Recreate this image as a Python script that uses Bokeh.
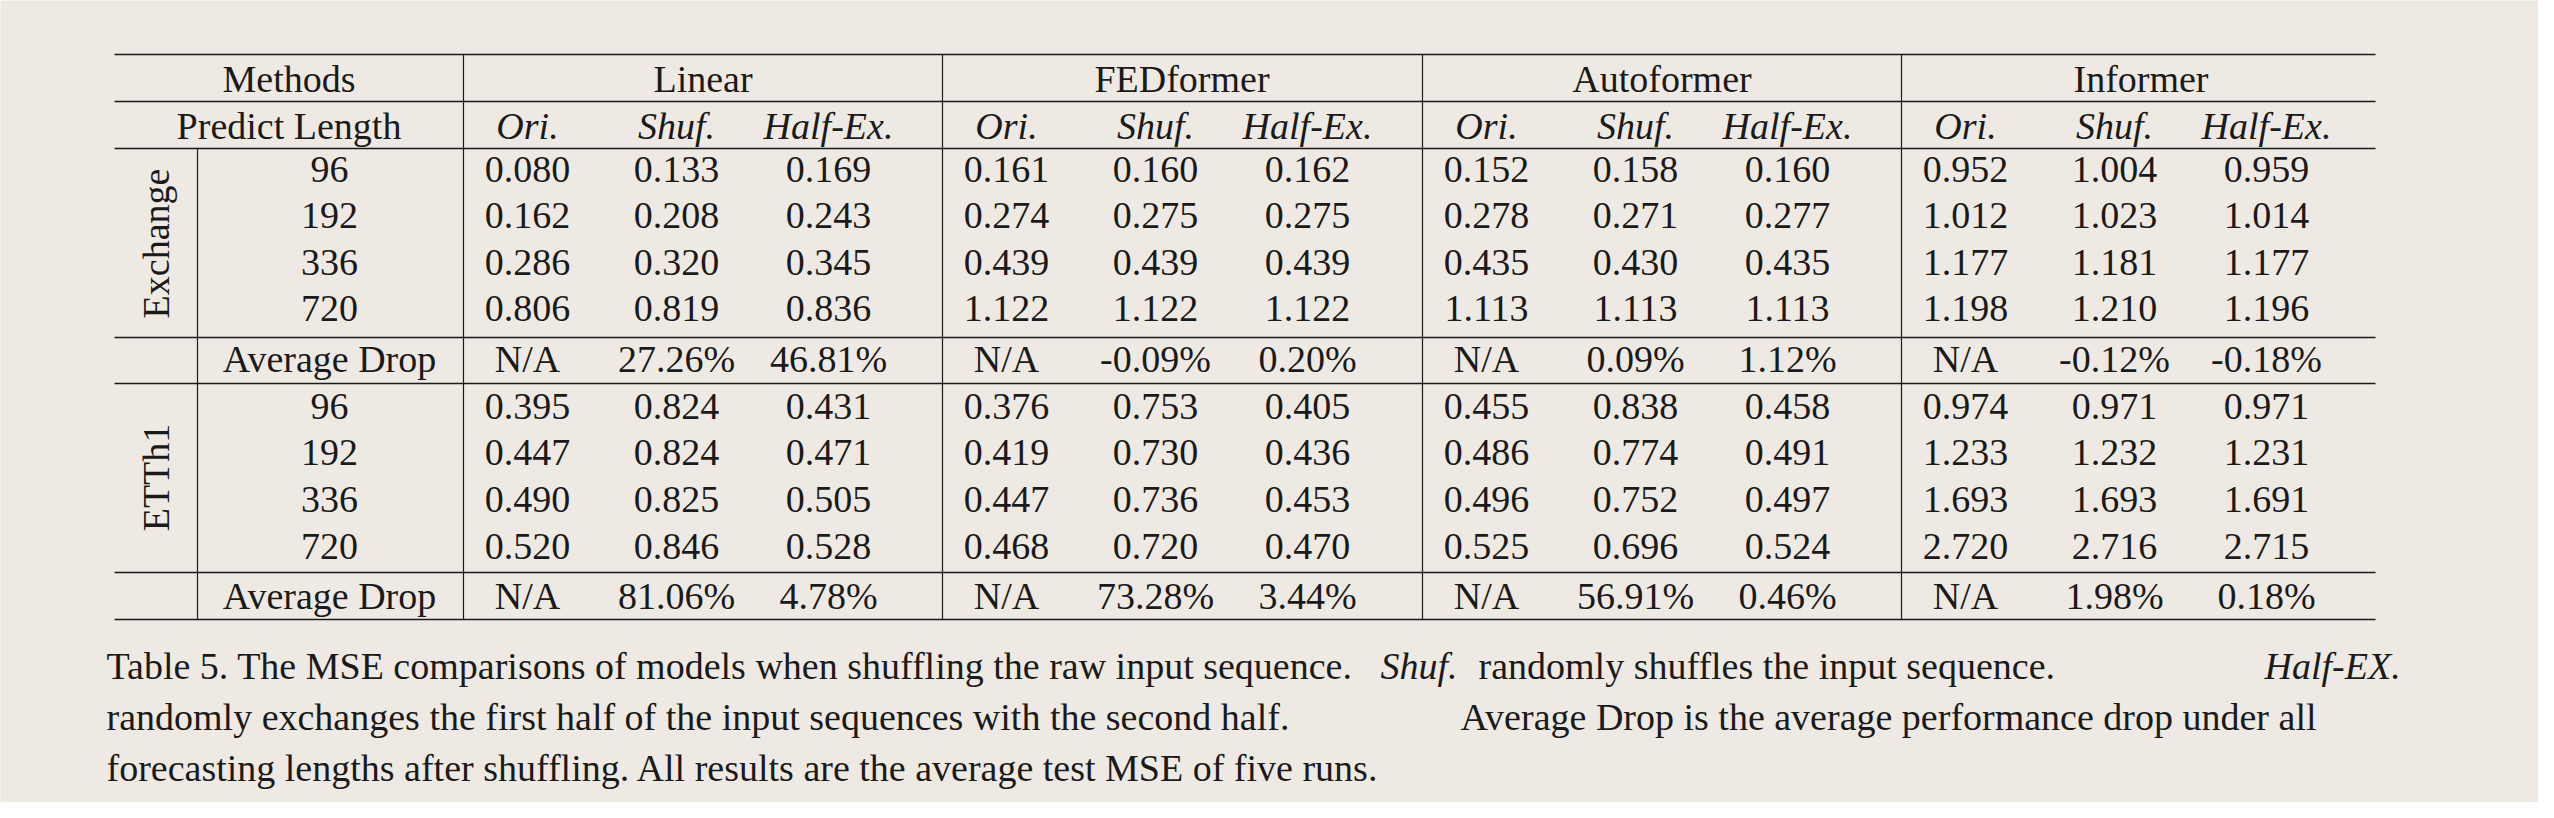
from bokeh.plotting import figure
from bokeh.models import ColumnDataSource, Range1d
from bokeh.core.properties import value
from bokeh.embed import file_html
from bokeh.resources import INLINE
import math

models = ["Linear", "FEDformer", "Autoformer", "Informer"]
sub_cols = ["Ori.", "Shuf.", "Half-Ex."]
lengths = ["96", "192", "336", "720"]
datasets = ["Exchange", "ETTh1"]

exchange = {
    "Linear": [["0.080", "0.133", "0.169"], ["0.162", "0.208", "0.243"],
               ["0.286", "0.320", "0.345"], ["0.806", "0.819", "0.836"]],
    "FEDformer": [["0.161", "0.160", "0.162"], ["0.274", "0.275", "0.275"],
                  ["0.439", "0.439", "0.439"], ["1.122", "1.122", "1.122"]],
    "Autoformer": [["0.152", "0.158", "0.160"], ["0.278", "0.271", "0.277"],
                   ["0.435", "0.430", "0.435"], ["1.113", "1.113", "1.113"]],
    "Informer": [["0.952", "1.004", "0.959"], ["1.012", "1.023", "1.014"],
                 ["1.177", "1.181", "1.177"], ["1.198", "1.210", "1.196"]],
}
exchange_drop = {
    "Linear": ["N/A", "27.26%", "46.81%"],
    "FEDformer": ["N/A", "-0.09%", "0.20%"],
    "Autoformer": ["N/A", "0.09%", "1.12%"],
    "Informer": ["N/A", "-0.12%", "-0.18%"],
}
etth1 = {
    "Linear": [["0.395", "0.824", "0.431"], ["0.447", "0.824", "0.471"],
               ["0.490", "0.825", "0.505"], ["0.520", "0.846", "0.528"]],
    "FEDformer": [["0.376", "0.753", "0.405"], ["0.419", "0.730", "0.436"],
                  ["0.447", "0.736", "0.453"], ["0.468", "0.720", "0.470"]],
    "Autoformer": [["0.455", "0.838", "0.458"], ["0.486", "0.774", "0.491"],
                   ["0.496", "0.752", "0.497"], ["0.525", "0.696", "0.524"]],
    "Informer": [["0.974", "0.971", "0.971"], ["1.233", "1.232", "1.231"],
                 ["1.693", "1.693", "1.691"], ["2.720", "2.716", "2.715"]],
}
etth1_drop = {
    "Linear": ["N/A", "81.06%", "4.78%"],
    "FEDformer": ["N/A", "73.28%", "3.44%"],
    "Autoformer": ["N/A", "56.91%", "0.46%"],
    "Informer": ["N/A", "1.98%", "0.18%"],
}

caption_lines = [
    [("Table 5. The MSE comparisons of models when shuffling the raw input sequence.", "normal", 106),
     ("Shuf.", "italic", 1380), ("randomly shuffles the input sequence.", "normal", 1478),
     ("Half-EX.", "italic", 2264)],
    [("randomly exchanges the first half of the input sequences with the second half.", "normal", 106),
     ("Average Drop is the average performance drop under all", "normal", 1460)],
    [("forecasting lengths after shuffling. All results are the average test MSE of five runs.", "normal", 106)],
]

W, H = 2538, 802
FONT = "Liberation Serif"
FS = "38px"
BG = "#eeeae3"
INK = "#1a1a1a"

p = figure(width=W, height=H, output_backend="svg", toolbar_location=None,
           x_range=Range1d(0, W), y_range=Range1d(H, 0), min_border=0,
           background_fill_color=BG, border_fill_color=BG, outline_line_color=None)
p.axis.visible = False
p.grid.visible = False

left, div1, div2, right = 114, 197, 463, 2375
group_left = [463, 942, 1422, 1901]
group_w = 479
col_off = [64, 213, 365]
label_x = 329
rows_y = [54, 101, 148, 337, 383, 572, 619]
ex_rows = [169, 215, 262, 308]
ex_drop_y = 358
et_rows = [406, 452, 499, 546]
et_drop_y = 595

# horizontal rules
p.segment(x0=[left] * len(rows_y), y0=rows_y, x1=[right] * len(rows_y), y1=rows_y,
          line_color=INK, line_width=1.6)

# vertical rules
vx = [div2] + group_left[1:] + [div1]
vy0 = [54] * 4 + [148]
p.segment(x0=vx, y0=vy0, x1=vx, y1=[619] * 5, line_color=INK, line_width=1.2)

def put(xs, ys, texts, style="normal", angle=0.0, size=FS):
    src = ColumnDataSource(dict(x=xs, y=ys, t=texts))
    p.text(x="x", y="y", text="t", source=src, text_font=value(FONT),
           text_font_size=size, text_font_style=style, text_color=INK,
           text_align="center", text_baseline="middle", angle=angle)

# headers
put([(left + div2) / 2], [78], ["Methods"])
put([(left + div2) / 2], [125], ["Predict Length"])
put([g + group_w / 2 for g in group_left], [78] * 4, models)
hx, hyy, ht = [], [], []
for g in group_left:
    for off, s in zip(col_off, sub_cols):
        hx.append(g + off); hyy.append(125); ht.append(s)
put(hx, hyy, ht, style="italic")

# row labels
put([label_x] * 4, ex_rows, lengths)
put([label_x] * 4, et_rows, lengths)
put([label_x] * 2, [ex_drop_y, et_drop_y], ["Average Drop", "Average Drop"])
put([155, 155], [243, 477], datasets, angle=math.pi / 2)

# body values
bx, by, bt = [], [], []
for gi, m in enumerate(models):
    g = group_left[gi]
    for tbl, ys, drop, dy in [(exchange, ex_rows, exchange_drop, ex_drop_y),
                              (etth1, et_rows, etth1_drop, et_drop_y)]:
        for r, yy in enumerate(ys):
            for c in range(3):
                bx.append(g + col_off[c]); by.append(yy); bt.append(tbl[m][r][c])
        for c in range(3):
            bx.append(g + col_off[c]); by.append(dy); bt.append(drop[m][c])
put(bx, by, bt)

# caption
cap_y = [665, 716, 767]
for yy, segs in zip(cap_y, caption_lines):
    for txt, style, xx in segs:
        p.text(x=[xx], y=[yy], text=[txt], text_font=value(FONT),
               text_font_size="38px", text_font_style=style, text_color=INK,
               text_align="left", text_baseline="middle")

open("out.html", "w").write(file_html(p, INLINE))
